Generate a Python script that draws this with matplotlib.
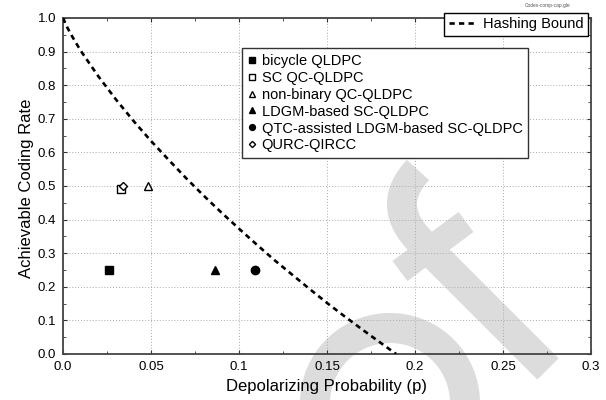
import numpy as np
import matplotlib.pyplot as plt
from matplotlib.lines import Line2D
from matplotlib.ticker import MultipleLocator

plt.rcParams['font.family'] = ['Liberation Sans', 'DejaVu Sans']

# hashing bound
p_bound = [0.0, 0.0025, 0.005, 0.01, 0.02, 0.03, 0.04, 0.05, 0.06, 0.07, 0.08,
           0.09, 0.10, 0.11, 0.12, 0.13, 0.14, 0.15, 0.16, 0.17, 0.18, 0.1893]
r_bound = [1.0, 0.971, 0.947, 0.903, 0.827, 0.758, 0.694, 0.634, 0.578, 0.523, 0.471,
           0.421, 0.373, 0.326, 0.280, 0.237, 0.194, 0.152, 0.112, 0.073, 0.035, 0.0]

# code points
names = ["bicycle QLDPC", "SC QC-QLDPC", "non-binary QC-QLDPC",
         "LDGM-based SC-QLDPC", "QTC-assisted LDGM-based SC-QLDPC", "QURC-QIRCC"]
p_codes = [0.0262, 0.0327, 0.0485, 0.0863, 0.1093, 0.0342]
r_codes = [0.25, 0.49, 0.50, 0.25, 0.25, 0.50]
markers = ['s', 's', '^', '^', 'o', 'D']
filled = [True, False, False, True, True, False]
msizes = [6, 6, 6, 6, 6, 4.5]

W, H = 606, 400
fig = plt.figure(figsize=(W / 100, H / 100), dpi=100)
ax = fig.add_axes([63 / W, 1 - 354 / H, (591 - 63) / W, (354 - 18) / H])
ax.set_facecolor('none')


def px(x, y):
    return x / W, 1 - y / H


# watermark in the background (pixel coords, origin top left)
wm = '#dcdcdc'
lw_wm = 30 * 0.72
t = np.linspace(0, np.pi, 60)
arc_x = 390 + 75 * np.cos(t)
arc_y = 403 - 75 * np.sin(t)
fx, fy = px(arc_x, arc_y)
fig.add_artist(Line2D(fx, fy, color=wm, lw=lw_wm, solid_capstyle='butt', zorder=0))

s = np.linspace(0, 1, 30)
b0, b1, b2 = np.array([420, 241]), np.array([385, 205]), np.array([418, 170])
hook = np.outer((1 - s) ** 2, b0) + np.outer(2 * (1 - s) * s, b1) + np.outer(s ** 2, b2)
stroke = np.vstack([[[548, 369]], hook])
fx, fy = px(stroke[:, 0], stroke[:, 1])
fig.add_artist(Line2D(fx, fy, color=wm, lw=lw_wm, solid_capstyle='butt', zorder=0))

fx, fy = px(np.array([400, 466]), np.array([271, 222]))
fig.add_artist(Line2D(fx, fy, color=wm, lw=25 * 0.72, solid_capstyle='butt', zorder=0))

# grid + axes
ax.set_xlim(0, 0.3)
ax.set_ylim(0, 1.0)
ax.xaxis.set_major_locator(MultipleLocator(0.05))
ax.xaxis.set_minor_locator(MultipleLocator(0.025))
ax.yaxis.set_major_locator(MultipleLocator(0.1))
ax.yaxis.set_minor_locator(MultipleLocator(0.05))
ax.xaxis.set_major_formatter(plt.FuncFormatter(lambda v, _: f"{v:g}" if v != 0 else "0.0"))
ax.yaxis.set_major_formatter(plt.FuncFormatter(lambda v, _: f"{v:.1f}"))
ax.grid(True, which='major', linestyle=(0, (1, 2)), color='#aaaaaa', linewidth=0.7)
ax.tick_params(which='both', direction='in', top=True, right=True, labelsize=9.5,
               color='#333333', pad=5)
ax.tick_params(which='major', length=3)
ax.tick_params(which='minor', length=2)
for sp in ax.spines.values():
    sp.set_color('#444444')
    sp.set_linewidth(1.3)

bound_line, = ax.plot(p_bound, r_bound, color='black', lw=1.9,
                      linestyle=(0, (2, 1.6)), label="Hashing Bound", zorder=3)

code_handles = []
for i in range(len(names)):
    h, = ax.plot(p_codes[i], r_codes[i], linestyle='none', marker=markers[i],
                 markersize=msizes[i], markeredgecolor='black', markeredgewidth=1.0,
                 markerfacecolor='black' if filled[i] else 'white',
                 label=names[i], zorder=4)
    code_handles.append(h)

ax.set_xlabel("Depolarizing Probability (p)", fontsize=12, labelpad=4)
fig.text(27 / W, 1 - 188 / H, "Achievable Coding Rate", rotation=90,
         fontsize=12, ha='center', va='center')

leg1 = fig.legend(handles=[bound_line], loc='upper right',
                  bbox_to_anchor=px(588, 13), borderaxespad=0, fontsize=10.5,
                  handlelength=1.8, handletextpad=0.55, fancybox=False,
                  framealpha=1, edgecolor='black', borderpad=0.3)
leg1.get_frame().set_linewidth(1.0)

leg2 = fig.legend(handles=code_handles, loc='upper left',
                  bbox_to_anchor=px(242, 48), borderaxespad=0, fontsize=10.5,
                  handlelength=0.6, handletextpad=0.35, labelspacing=0.2,
                  fancybox=False, framealpha=1, edgecolor='#333333',
                  borderpad=0.4, markerscale=0.7)
leg2.get_frame().set_linewidth(1.0)

fig.text(548 / W, 1 - 5 / H, "Codes-comp-cap.gle", fontsize=3.5, color='#555555',
         ha='center', va='center')

fig.savefig("out.png", dpi=100)
